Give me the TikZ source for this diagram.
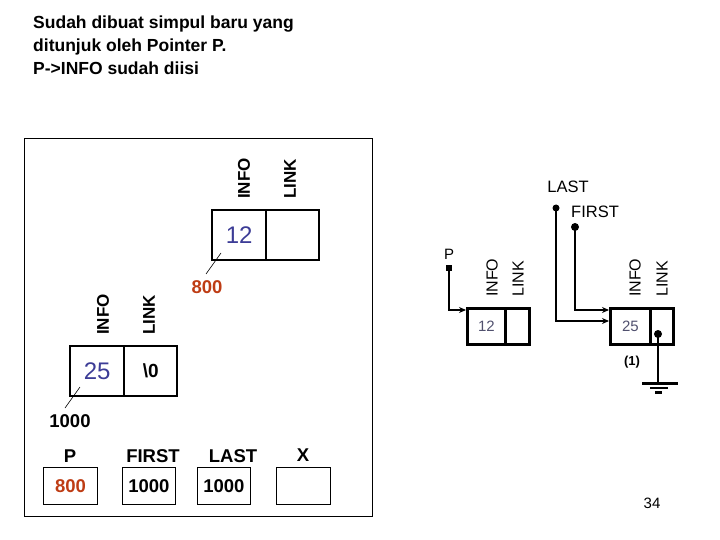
\documentclass[tikz,border=0pt]{standalone}
\usepackage{fontspec}
\setmainfont{Liberation Sans}
\usetikzlibrary{arrows.meta}
\definecolor{numblue}{RGB}{60,60,150}
\definecolor{addrred}{RGB}{190,60,20}
\definecolor{smallgrey}{RGB}{80,80,110}
\begin{document}
\begin{tikzpicture}[x=1pt,y=-1pt,
  cell/.style={draw,line width=2.4pt,inner sep=0pt,anchor=north west},
  bigcell/.style={cell,minimum width=54pt,minimum height=50pt},
  smallcell/.style={cell,line width=2.8pt,minimum height=36pt},
  varbox/.style={draw,line width=0.9pt,inner sep=0pt,anchor=north west,minimum width=54pt,minimum height=37pt},
  vlabel/.style={rotate=90,anchor=west,inner sep=0pt,font=\fontsize{17}{17}\selectfont\bfseries},
  svlabel/.style={rotate=90,anchor=west,inner sep=0pt,font=\fontsize{16}{16}\selectfont},
  boldlbl/.style={font=\fontsize{18.5}{18.5}\selectfont\bfseries,inner sep=0pt},
  ptr/.style={line width=2.8pt,-{Stealth[length=7pt,width=6pt]}},
  thin/.style={line width=0.6pt}]
\useasboundingbox (0,0) rectangle (720,540);

% title
\node[anchor=north west,align=left,inner sep=0pt,font=\fontsize{17.5}{23}\selectfont\bfseries] (title) at (33,16)
 {Sudah dibuat simpul baru yang\\ditunjuk oleh Pointer P.\\P->INFO sudah diisi};

% frame
\draw[line width=0.9pt] (24,138) rectangle (372,516);

% node 12 (left)
\node[bigcell,minimum width=54pt] (ainfo) at (211,209) {};
\node[bigcell,minimum width=53pt] (alink) at (265,209) {};
\node[text=numblue,font=\fontsize{24}{24}\selectfont,inner sep=0pt] (a12) at (ainfo.center) {12};
\node[vlabel] (ainfol) at (244,199) {INFO};
\node[vlabel] (alinkl) at (290,199) {LINK};
\node[boldlbl,text=addrred] (a800) at (207,287) {800};
\coordinate (a800t) at (206,274);
\coordinate (a800s) at (221,253);
\draw[thin] (a800s) -- (a800t);

% node 25 (left)
\node[bigcell] (binfo) at (69,345) {};
\node[bigcell,minimum width=53pt] (blink) at (123,345) {};
\node[text=numblue,font=\fontsize{24}{24}\selectfont,inner sep=0pt] (b25) at (binfo.center) {25};
\node[font=\fontsize{19}{19}\selectfont\bfseries,inner sep=0pt] (bnull) at (blink.center) {\textbackslash0};
\node[vlabel] (binfol) at (103,335) {INFO};
\node[vlabel] (blinkl) at (149,335) {LINK};
\node[boldlbl] (b1000) at (70,421) {1000};
\coordinate (b1000t) at (65,408);
\coordinate (b1000s) at (80,387);
\draw[thin] (b1000s) -- (b1000t);

% variables
\node[varbox] (vp) at (43,467) {};
\node[varbox,minimum width=53pt] (vfirst) at (122,467) {};
\node[varbox,minimum width=53pt] (vlast) at (197,467) {};
\node[varbox] (vx) at (276,467) {};
\node[boldlbl] (vpl) at (70,456) {P};
\node[boldlbl] (vfirstl) at (153,456) {FIRST};
\node[boldlbl] (vlastl) at (233,456) {LAST};
\node[boldlbl] (vxl) at (303,455) {X};
\node[boldlbl,text=addrred] (vpv) at (vp.center) {800};
\node[boldlbl] (vfirstv) at (vfirst.center) {1000};
\node[boldlbl] (vlastv) at (vlast.center) {1000};

% right: node 12 with P
\node[smallcell,minimum width=38pt] (cinfo) at (466,307) {};
\node[smallcell,minimum width=24pt] (clink) at (504,307) {};
\node[text=smallgrey,font=\fontsize{15}{15}\selectfont,inner sep=0pt] (c12) at (cinfo.center) {12};
\node[svlabel] (cinfol) at (492,297) {INFO};
\node[svlabel] (clinkl) at (518,297) {LINK};
\node[font=\fontsize{15}{15}\selectfont,inner sep=0pt] (cp) at (449,254) {P};
\node[fill,minimum size=6pt,inner sep=0pt] (cpdot) at (449,268) {};
\draw[ptr] (cpdot.center) |- (cinfo.west |- 0,310);

% right: node 25 with FIRST/LAST
\node[smallcell,minimum width=40pt] (dinfo) at (609,307) {};
\node[smallcell,minimum width=23pt] (dlink) at (649,307) {};
\node[text=smallgrey,font=\fontsize{15}{15}\selectfont,inner sep=0pt] (d25) at (dinfo.center) {25};
\node[svlabel] (dinfol) at (635,297) {INFO};
\node[svlabel] (dlinkl) at (662,297) {LINK};
\node[font=\fontsize{16.5}{16.5}\selectfont,inner sep=0pt] (dlast) at (568,187) {LAST};
\node[font=\fontsize{16.5}{16.5}\selectfont,inner sep=0pt] (dfirst) at (595,212) {FIRST};
\node[circle,fill,minimum size=7pt,inner sep=0pt] (dlastdot) at (556,208) {};
\node[circle,fill,minimum size=8pt,inner sep=0pt] (dfirstdot) at (575,227) {};
\draw[ptr] (dlastdot.center) |- (dinfo.west |- 0,321);
\draw[ptr] (dfirstdot.center) |- (dinfo.west |- 0,310);
\node[circle,fill,minimum size=8pt,inner sep=0pt] (dnulldot) at (658,334) {};
\coordinate (gnd) at (658,383);
\draw[line width=2.8pt] (dnulldot.center) -- (gnd);
\draw[line width=3pt] (642,383) -- (678,383);
\draw[line width=2.5pt] (650,388) -- (668,388);
\draw[line width=2.5pt] (655,392.5) -- (662,392.5);
\node[font=\fontsize{13}{13}\selectfont\bfseries,inner sep=0pt] (one) at (632,362) {(1)};

% page number
\node[font=\fontsize{15}{15}\selectfont,inner sep=0pt] (pg) at (652,503) {34};
\end{tikzpicture}
\end{document}
